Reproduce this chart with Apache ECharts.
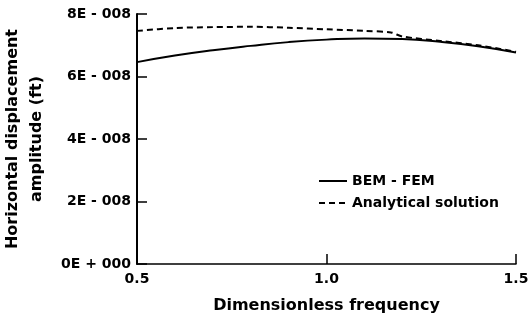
<!DOCTYPE html>
<html>
<head>
<meta charset="utf-8">
<title>Horizontal displacement amplitude</title>
<script src="https://cdn.jsdelivr.net/npm/echarts@6/dist/echarts.min.js"></script>
<style>
  * { margin: 0; padding: 0; }
  body { background: #fff; }
  #chart { width: 531px; height: 325px; }
</style>
</head>
<body>
<div id="chart"></div>
<script>
// dimensionless frequency (x) for each curve
var freqBem = [0.5, 0.6, 0.7, 0.8, 0.9, 1.0, 1.1, 1.2, 1.3, 1.4, 1.5];
var freqAna = [0.5, 0.6, 0.7, 0.8, 0.9, 1.0, 1.1, 1.17, 1.2, 1.3, 1.4, 1.5];
// amplitude (ft)
var bemFem = [6.46e-8, 6.67e-8, 6.84e-8, 6.98e-8, 7.10e-8, 7.18e-8, 7.22e-8, 7.20e-8, 7.11e-8, 6.97e-8, 6.77e-8];
var analytical = [7.46e-8, 7.55e-8, 7.58e-8, 7.59e-8, 7.56e-8, 7.51e-8, 7.46e-8, 7.41e-8, 7.28e-8, 7.14e-8, 7.00e-8, 6.79e-8];
// tick labels
var xLabels = ['0.5', '1.0', '1.5'];
var yLabels = ['0E + 000', '2E - 008', '4E - 008', '6E - 008', '8E - 008'];

function pairs(xs, ys) {
  var out = [];
  for (var i = 0; i < xs.length; i++) out.push([xs[i], ys[i]]);
  return out;
}

var font = 'DejaVu Sans, Arial, sans-serif';
var chart = echarts.init(document.getElementById('chart'));
chart.setOption({
  animation: false,
  backgroundColor: '#fff',
  textStyle: { fontFamily: font, color: '#000', fontWeight: 'bold' },
  grid: { left: 137, right: 15, top: 14, bottom: 61, outerBoundsMode: 'none', containLabel: false },
  legend: {
    left: 313, top: 168, orient: 'vertical', itemGap: 6,
    itemWidth: 28, itemHeight: 14,
    itemStyle: { opacity: 0 },
    textStyle: { fontFamily: font, fontSize: 14, fontWeight: 'bold', color: '#000', lineHeight: 16 },
    data: ['BEM - FEM', 'Analytical solution']
  },
  xAxis: {
    type: 'value', min: 0.5, max: 1.5, interval: 0.5,
    name: 'Dimensionless frequency', nameLocation: 'middle', nameGap: 34,
    nameTextStyle: { fontFamily: font, fontSize: 16, fontWeight: 'bold', color: '#000' },
    axisLine: { lineStyle: { color: '#000', width: 1.5 } },
    axisTick: { inside: true, length: 10, lineStyle: { color: '#000', width: 1.5 } },
    axisLabel: {
      margin: 8, fontSize: 14, fontWeight: 'bold', color: '#000', fontFamily: font,
      formatter: function (v, i) { return xLabels[i]; }
    },
    splitLine: { show: false }
  },
  yAxis: {
    type: 'value', min: 0, max: 8e-8, interval: 2e-8,
    name: 'Horizontal displacement\namplitude (ft)', nameLocation: 'middle',
    nameRotate: 90, nameGap: 88,
    nameTextStyle: { fontFamily: font, fontSize: 16, fontWeight: 'bold', color: '#000', lineHeight: 24 },
    axisLine: { lineStyle: { color: '#000', width: 2 } },
    axisTick: { inside: true, length: 10, lineStyle: { color: '#000', width: 1.5 } },
    axisLabel: {
      margin: 6, fontSize: 14, fontWeight: 'bold', color: '#000', fontFamily: font,
      formatter: function (v, i) { return yLabels[i]; }
    },
    splitLine: { show: false }
  },
  series: [
    {
      name: 'BEM - FEM', type: 'line', smooth: true, symbol: 'none',
      lineStyle: { color: '#000', width: 2 },
      itemStyle: { color: '#000' },
      data: pairs(freqBem, bemFem)
    },
    {
      name: 'Analytical solution', type: 'line', smooth: 0.3, symbol: 'none',
      lineStyle: { color: '#000', width: 2, type: [6, 4] },
      itemStyle: { color: '#000' },
      data: pairs(freqAna, analytical)
    }
  ]
});
</script>
</body>
</html>
